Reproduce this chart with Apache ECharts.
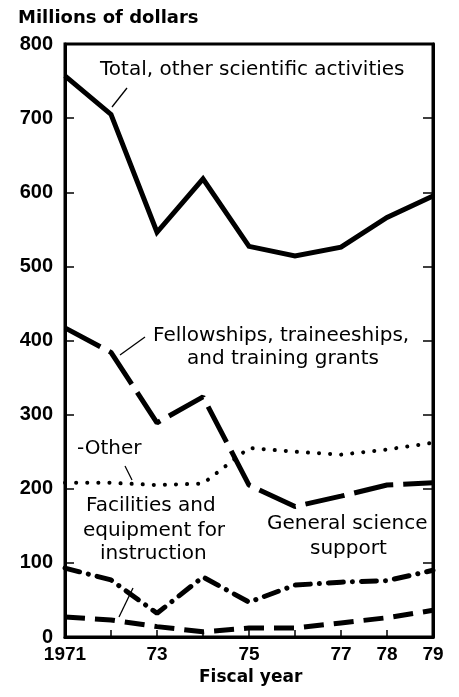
<!DOCTYPE html>
<html>
<head>
<meta charset="utf-8">
<script src="https://cdn.jsdelivr.net/npm/echarts@6/dist/echarts.min.js"></script>
<style>html,body{margin:0;padding:0;background:#fff;}#c{width:459px;height:697px;}</style>
</head>
<body>
<div id="c"></div>
<script>
// Data (millions of dollars)
var years = ['1971','1972','1973','1974','1975','1976','1977','1978','1979'];
var xTickLabels = ['1971','','73','','75','','77','78','79'];
var yTicks = [0,100,200,300,400,500,600,700,800];
var total = [757, 705, 546, 618, 527, 514, 526, 566, 595];
var fellowships = [417, 384, 289, 324, 205, 176, 190, 205, 208];
var other = [208, 208, 205, 207, 255, 250, 246, 253, 262];
var generalSupport = [93, 77, 32, 81, 47, 70, 74, 76, 90];
var facilities = [27, 23, 14, 7, 12, 12, 19, 26, 36];

var chart = echarts.init(document.getElementById('c'), null, {renderer:'canvas'});
var labelFont = {fontFamily:'DejaVu Sans', fontSize:20, fill:'#000'};
function txt(x, y, s, extra){
  return {type:'text', left:x, top:y, style:Object.assign({text:s, font:'20px "DejaVu Sans"', fill:'#000'}, extra||{})};
}
function ln(x1,y1,x2,y2){
  return {type:'line', shape:{x1:x1,y1:y1,x2:x2,y2:y2}, style:{stroke:'#000', lineWidth:1.3}, z:10};
}
chart.setOption({
  backgroundColor:'#fff',
  animation:false,
  grid:{left:65, right:26, top:44, bottom:60, show:true, borderColor:'#000', borderWidth:3},
  xAxis:{
    type:'category', data:years, boundaryGap:false,
    axisLine:{show:true, lineStyle:{color:'#000', width:3}},
    axisTick:{show:true, inside:true, length:7, lineStyle:{color:'#000', width:1.5}, interval:0},
    axisLabel:{interval:0, margin:8, color:'#000', fontFamily:'Liberation Sans', fontWeight:'bold', fontSize:19,
      formatter:function(v, i){ return xTickLabels[i]; }},
    splitLine:{show:false}
  },
  yAxis:[{
    type:'value', min:yTicks[0], max:yTicks[yTicks.length-1], interval:100,
    axisLine:{show:true, lineStyle:{color:'#000', width:3}},
    axisTick:{show:true, inside:true, length:9, lineStyle:{color:'#000', width:1.5}},
    axisLabel:{margin:12, color:'#000', fontFamily:'Liberation Sans', fontWeight:'bold', fontSize:20},
    splitLine:{show:false}
  },{
    type:'value', min:yTicks[0], max:yTicks[yTicks.length-1], interval:100, position:'right',
    axisLine:{show:true, lineStyle:{color:'#000', width:3}},
    axisTick:{show:true, inside:true, length:10, lineStyle:{color:'#000', width:1.5}},
    axisLabel:{show:false}, splitLine:{show:false}
  }],
  series:[
    {type:'line', data:total, symbol:'none', lineStyle:{color:'#000', width:5, join:'miter'}},
    {type:'line', data:fellowships, symbol:'none', lineStyle:{color:'#000', width:5, type:[40,10]}},
    {type:'line', data:other, symbol:'none', lineStyle:{color:'#000', width:4, type:[0.1,11], cap:'round'}},
    {type:'line', data:generalSupport, symbol:'none', lineStyle:{color:'#000', width:5, type:[15,9,0.1,9], cap:'round'}},
    {type:'line', data:facilities, symbol:'none', lineStyle:{color:'#000', width:5, type:[20,10]}}
  ],
  graphic:[
    txt(18, 9, 'Millions of dollars', {font:'bold 18px "DejaVu Sans"'}),
    txt(199, 669, 'Fiscal year', {font:'bold 17px "DejaVu Sans"'}),
    txt(100, 60, 'Total, other scientific activities'),
    txt(153, 326, 'Fellowships, traineeships,'),
    txt(187, 349, 'and training grants'),
    txt(77, 439, '-Other'),
    txt(86, 496, 'Facilities and'),
    txt(83, 521, 'equipment for'),
    txt(100, 544, 'instruction'),
    txt(267, 514, 'General science'),
    txt(310, 539, 'support'),
    ln(127, 88, 112, 107),
    ln(145, 337, 120, 355),
    ln(133, 588, 119, 617),
    ln(125, 466, 132, 480)
  ]
});
</script>
</body>
</html>
